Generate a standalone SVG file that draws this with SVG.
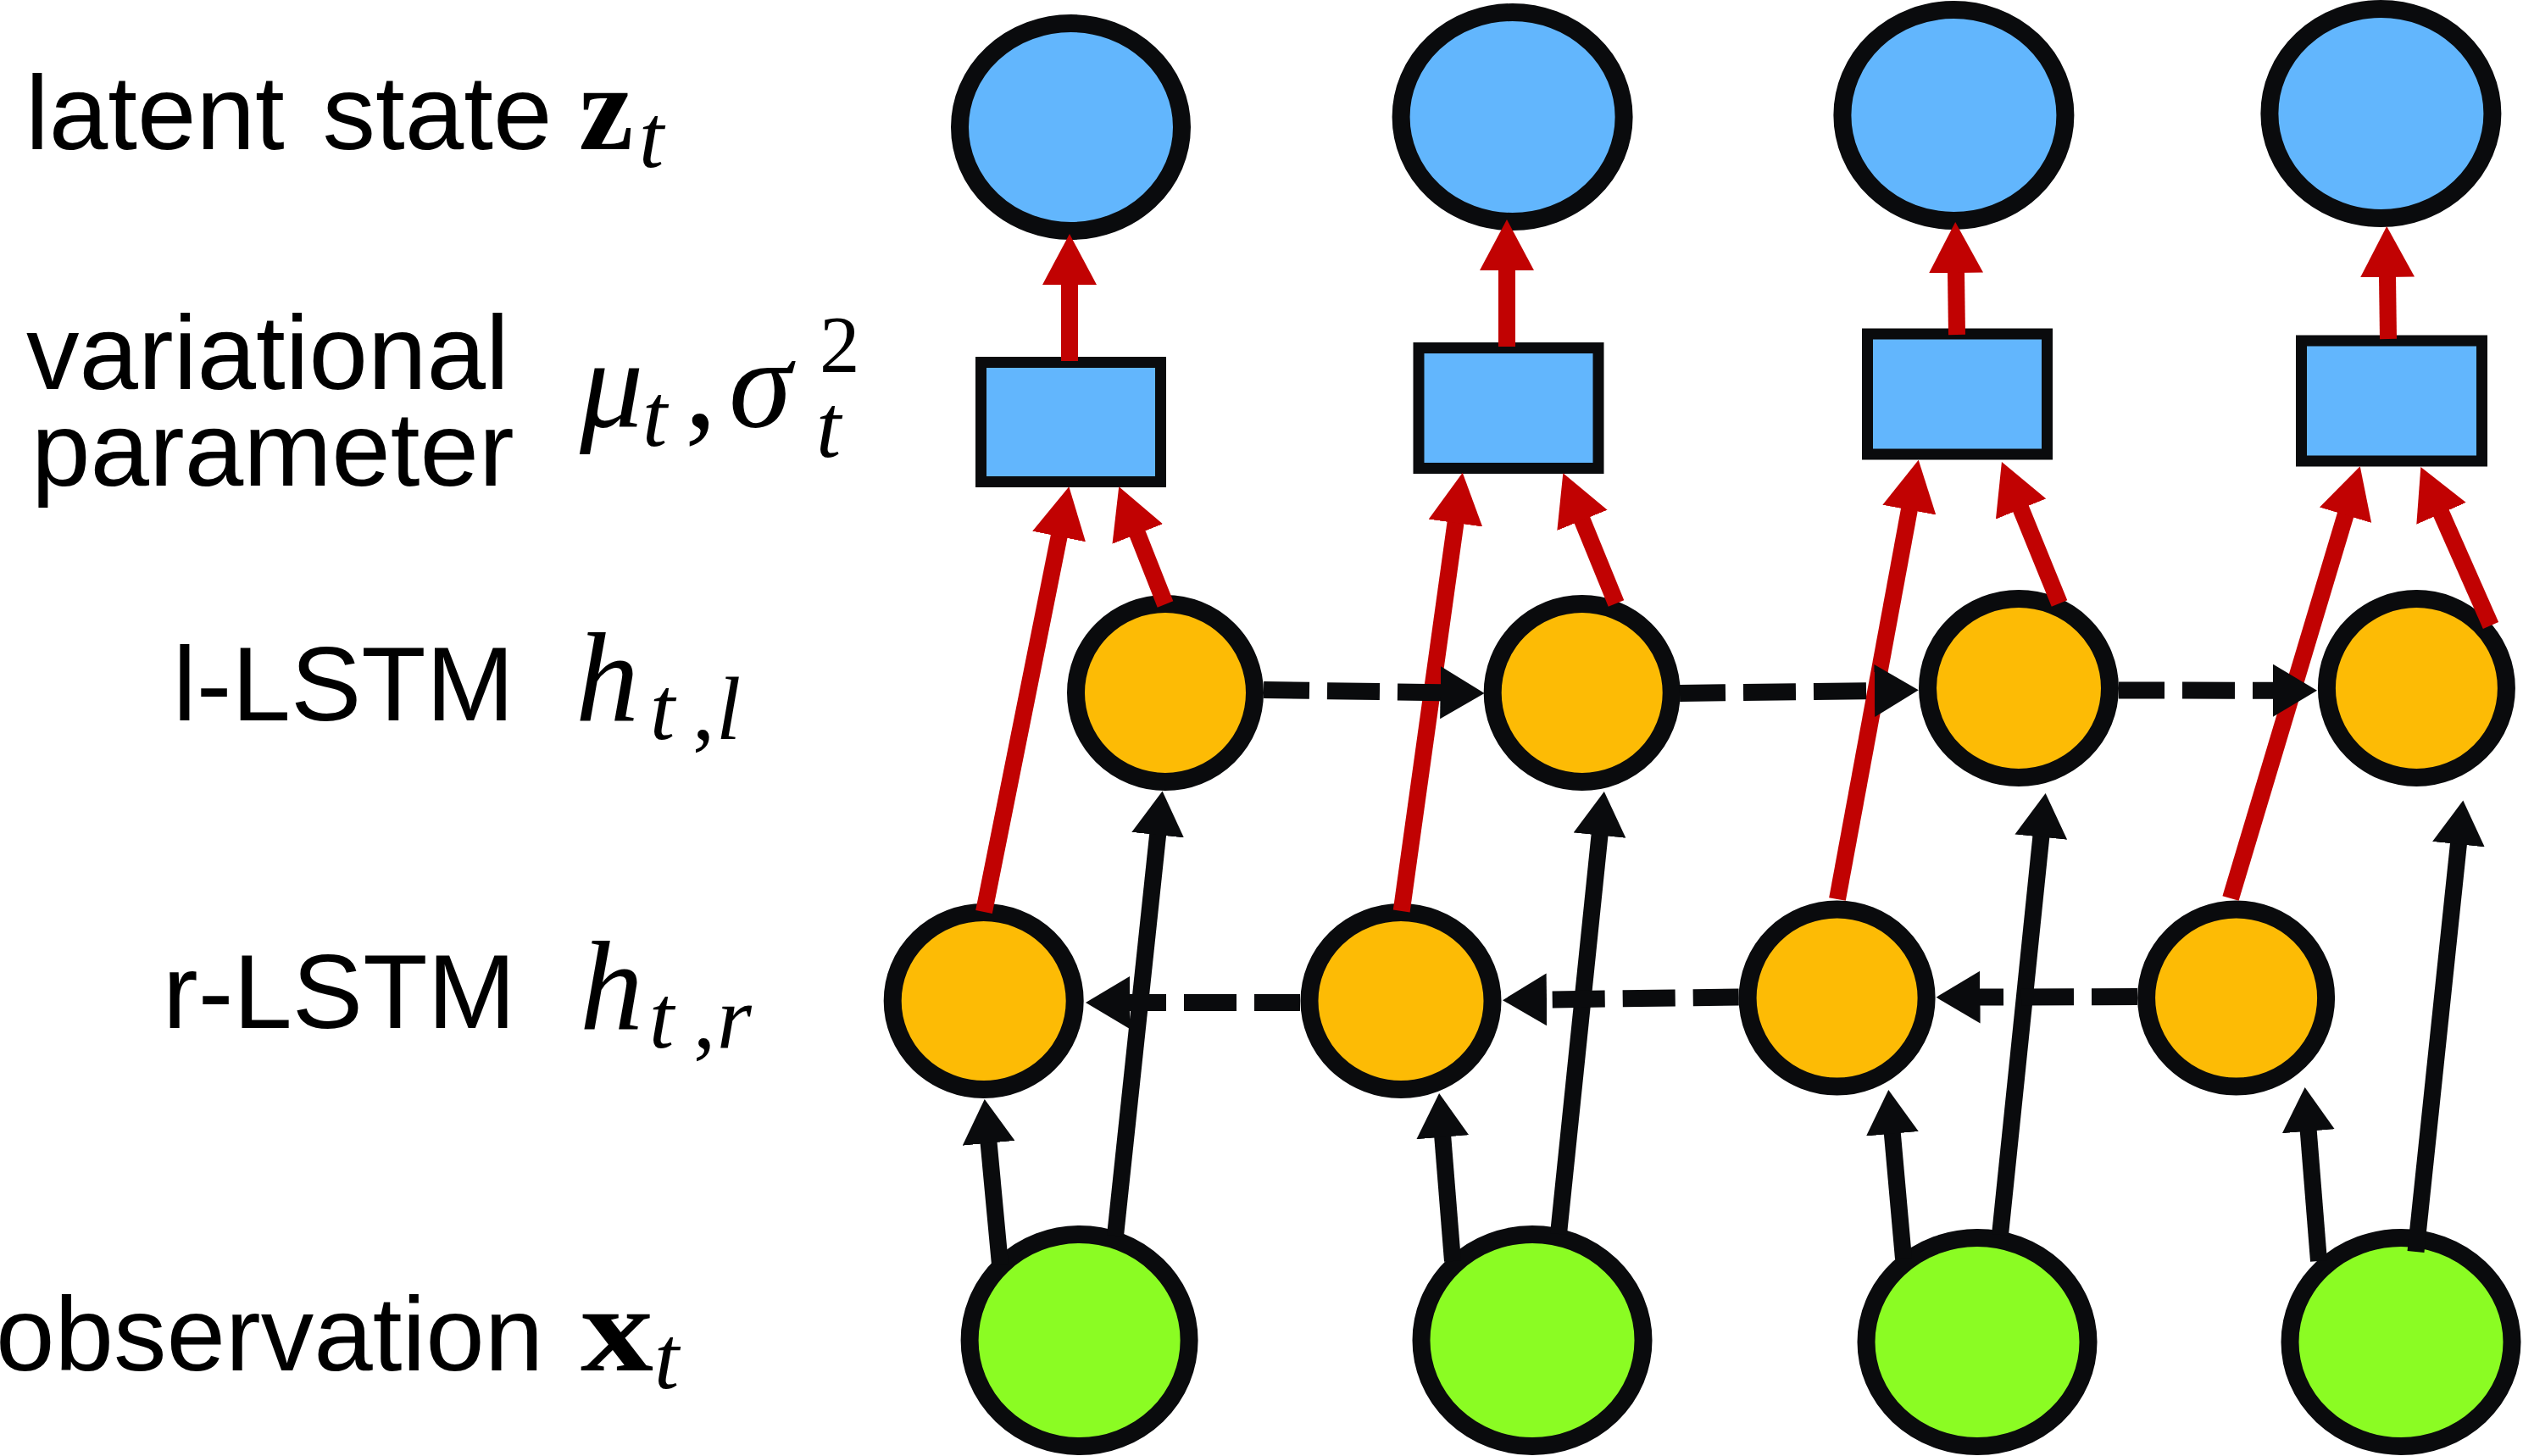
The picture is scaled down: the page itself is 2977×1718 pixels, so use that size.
<svg xmlns="http://www.w3.org/2000/svg" width="2977" height="1718" viewBox="0 0 2977 1718">
<style>
.lbl{font-family:"Liberation Sans",Arial,sans-serif;font-size:125px;fill:#000}
.m{font-family:"Liberation Serif","Times New Roman",serif;font-style:italic;font-size:150px;fill:#000}
.mb{font-family:"Liberation Serif","Times New Roman",serif;font-weight:bold;font-size:145px;fill:#000}
.ms{font-family:"Liberation Serif","Times New Roman",serif;font-style:italic;font-size:105px;fill:#000}
.mr{font-family:"Liberation Serif","Times New Roman",serif;fill:#000}
.z{fill:#62B6FD;stroke:#0A0B0D;stroke-width:21}
.p{fill:#62B6FD;stroke:#0A0B0D;stroke-width:13}
.h{fill:#FDBB05;stroke:#0A0B0D;stroke-width:21}
.x{fill:#8BFC23;stroke:#0A0B0D;stroke-width:21}
.red{stroke:#C10202;stroke-width:20;fill:none;marker-end:url(#ahr)}
.blk{stroke:#0A0B0D;stroke-width:20;fill:none;marker-end:url(#ahb)}
.dsh{stroke:#0A0B0D;stroke-width:20;fill:none;stroke-dasharray:62 21;stroke-dashoffset:8;marker-end:url(#ahb)}
</style>
<defs>
<marker id="ahr" markerUnits="userSpaceOnUse" viewBox="0 0 60 64" markerWidth="60" markerHeight="64" refX="1" refY="32" orient="auto">
<path d="M0,0 L60,32 L0,64 z" fill="#C10202"/>
</marker>
<marker id="ahb" markerUnits="userSpaceOnUse" viewBox="0 0 52 62" markerWidth="52" markerHeight="62" refX="1" refY="31" orient="auto">
<path d="M0,0 L52,31 L0,62 z" fill="#0A0B0D"/>
</marker>
</defs>
<rect width="2977" height="1718" fill="#fff"/>

<g id="labels">
<text class="lbl" x="30" y="176" word-spacing="10">latent state</text>
<text class="mb" x="683" y="176">z</text>
<text class="ms" x="754" y="197">t</text>

<text class="lbl" x="31" y="459">variational</text>
<text class="lbl" x="37" y="573">parameter</text>
<text class="m" x="684" y="504">μ</text>
<text class="ms" x="758" y="526">t</text>
<text class="mr" x="808" y="504" font-size="150">,</text>
<text class="m" x="860" y="504">σ</text>
<text class="mr" x="967" y="439" font-size="95">2</text>
<text class="ms" x="963" y="539">t</text>

<text class="lbl" x="204" y="850">l-LSTM</text>
<text class="m" x="679" y="850">h</text>
<text class="ms" x="767" y="872">t</text>
<text class="mr" x="817" y="872" font-size="105">,</text>
<text class="ms" x="845" y="872">l</text>

<text class="lbl" x="192" y="1213">r-LSTM</text>
<text class="m" x="684" y="1214">h</text>
<text class="ms" x="766" y="1236">t</text>
<text class="mr" x="818" y="1236" font-size="105">,</text>
<text class="ms" x="846" y="1236">r</text>

<text class="lbl" x="-5" y="1617">observation</text>
<text class="mb" x="685" y="1617" textLength="86" lengthAdjust="spacingAndGlyphs">x</text>
<text class="ms" x="772" y="1638">t</text>
</g>

<g id="z1"><ellipse class="z" cx="1263.5" cy="150" rx="131" ry="122.5"/></g>
<g id="z2"><ellipse class="z" cx="1784.6" cy="138" rx="131.5" ry="123.5"/></g>
<g id="z3"><ellipse class="z" cx="2305.4" cy="136" rx="131.5" ry="124.5"/></g>
<g id="z4"><ellipse class="z" cx="2809.4" cy="134" rx="131.5" ry="123.5"/></g>

<g id="p1"><rect class="p" x="1157.5" y="427.5" width="212" height="141"/></g>
<g id="p2"><rect class="p" x="1674" y="410.5" width="212" height="142"/></g>
<g id="p3"><rect class="p" x="2203.5" y="394" width="212" height="142"/></g>
<g id="p4"><rect class="p" x="2715.5" y="402" width="213" height="142"/></g>

<g id="hl1"><ellipse class="h" cx="1375" cy="817.5" rx="105.5" ry="105"/></g>
<g id="hl2"><ellipse class="h" cx="1866.7" cy="817.5" rx="105.5" ry="105"/></g>
<g id="hl3"><ellipse class="h" cx="2382" cy="812" rx="107.5" ry="105.5"/></g>
<g id="hl4"><ellipse class="h" cx="2851.4" cy="812" rx="106" ry="105.5"/></g>

<g id="hr1"><ellipse class="h" cx="1160.7" cy="1181" rx="107.5" ry="104.5"/></g>
<g id="hr2"><ellipse class="h" cx="1653" cy="1181" rx="108" ry="104.5"/></g>
<g id="hr3"><ellipse class="h" cx="2167.6" cy="1177.5" rx="105.5" ry="104.5"/></g>
<g id="hr4"><ellipse class="h" cx="2638.6" cy="1177.5" rx="106" ry="104.5"/></g>

<g id="x1"><ellipse class="x" cx="1273.6" cy="1581.5" rx="129.5" ry="125"/></g>
<g id="x2"><ellipse class="x" cx="1808" cy="1581.5" rx="131" ry="125"/></g>
<g id="x3"><ellipse class="x" cx="2333" cy="1583.5" rx="131" ry="123"/></g>
<g id="x4"><ellipse class="x" cx="2833" cy="1583.5" rx="131" ry="123"/></g>

<g id="connectors">
<line class="red" x1="1262" y1="426" x2="1262" y2="335"/>
<line class="red" x1="1778" y1="409" x2="1778" y2="318"/>
<line class="red" x1="2309" y1="395" x2="2308" y2="321"/>
<line class="red" x1="2818" y1="400" x2="2817" y2="326"/>

<line class="red" x1="1161" y1="1076" x2="1249.8" y2="632.1"/>
<line class="red" x1="1375" y1="713" x2="1341.9" y2="629.1"/>
<line class="red" x1="1653.7" y1="1075" x2="1717.6" y2="616.1"/>
<line class="red" x1="1907" y1="712" x2="1866.6" y2="612.9"/>
<line class="red" x1="2168" y1="1061" x2="2253" y2="600.7"/>
<line class="red" x1="2430" y1="712" x2="2384.2" y2="599.6"/>
<line class="red" x1="2632" y1="1060" x2="2767.8" y2="606.8"/>
<line class="red" x1="2939" y1="738" x2="2880.2" y2="604.9"/>

<line class="blk" x1="1180" y1="1492" x2="1166.5" y2="1347.8"/>
<line class="blk" x1="1316" y1="1458" x2="1366.2" y2="984.2"/>
<line class="blk" x1="1714" y1="1488" x2="1702.2" y2="1340.8"/>
<line class="blk" x1="1839" y1="1456" x2="1887.6" y2="984.7"/>
<line class="blk" x1="2246" y1="1485" x2="2232.8" y2="1336.8"/>
<line class="blk" x1="2360" y1="1457" x2="2408.4" y2="986.7"/>
<line class="blk" x1="2736" y1="1488" x2="2723.7" y2="1333.8"/>
<line class="blk" x1="2850.5" y1="1477" x2="2901" y2="995.2"/>

<line class="dsh" x1="1491" y1="814" x2="1700.6" y2="817.2"/>
<line class="dsh" x1="1982" y1="818" x2="2212.8" y2="815"/>
<line class="dsh" x1="2500" y1="814.5" x2="2683" y2="814.7"/>

<line class="dsh" x1="1534" y1="1183" x2="1332" y2="1183"/>
<line class="dsh" x1="2051.7" y1="1176.5" x2="1824" y2="1179.5"/>
<line class="dsh" x1="2522" y1="1176" x2="2335.5" y2="1176.6"/>
</g>
</svg>
